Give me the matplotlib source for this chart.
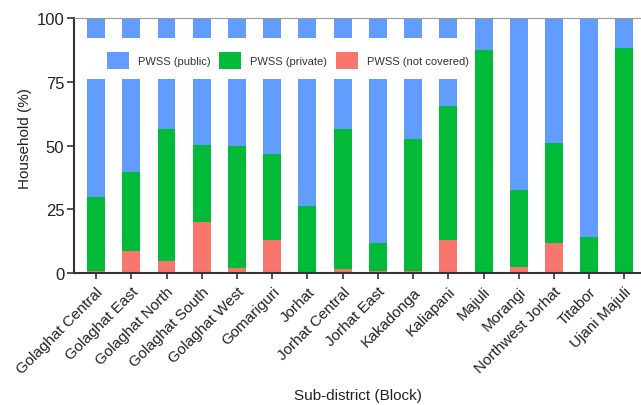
import numpy as np
import matplotlib
matplotlib.use("Agg")
import matplotlib.pyplot as plt

plt.rcParams["font.family"] = ["Liberation Sans", "DejaVu Sans"]

blocks = ["Golaghat Central", "Golaghat East", "Golaghat North", "Golaghat South",
          "Golaghat West", "Gomariguri", "Jorhat", "Jorhat Central", "Jorhat East",
          "Kakadonga", "Kaliapani", "Majuli", "Morangi", "Northwest Jorhat",
          "Titabor", "Ujani Majuli"]

# share of households (%) by water supply status
not_covered = [0.7, 8.5, 4.6, 20.1, 1.8, 13.1, 0.0, 1.6, 0.9, 0.9, 13.1, 0.0, 2.5, 11.8, 0.0, 0.4]
private = [29.0, 31.0, 51.9, 30.2, 48.1, 33.6, 26.4, 54.9, 10.9, 51.6, 52.5, 87.6, 30.0, 39.4, 14.2, 87.8]
public = [70.3, 60.5, 43.5, 49.7, 50.1, 53.3, 73.6, 43.5, 88.2, 47.5, 34.4, 12.4, 67.5, 48.8, 85.8, 11.8]

c_public = "#619CFF"
c_private = "#00BA38"
c_notcov = "#F8766D"

fig = plt.figure(figsize=(6.41, 4.06), dpi=100)
ax = fig.add_axes([0.1155, 0.325, 0.8845, 0.628])

x = np.arange(len(blocks))
w = 0.51
nc = np.array(not_covered)
pv = np.array(private)
pb = np.array(public)

ax.bar(x, nc, w, color=c_notcov, label="PWSS (not covered)", zorder=2)
ax.bar(x, pv, w, bottom=nc, color=c_private, label="PWSS (private)", zorder=2)
ax.bar(x, pb, w, bottom=nc + pv, color=c_public, label="PWSS (public)", zorder=2)

# white strip behind the legend
ax.axhspan(76, 92, xmin=0, xmax=0.691, facecolor="white", edgecolor="none", zorder=2.5)

handles, labels = ax.get_legend_handles_labels()
leg = ax.legend(handles[::-1], labels[::-1], ncol=3, fontsize=8, frameon=False,
                loc="center left", bbox_to_anchor=(0.0476, 0.835), borderpad=0,
                handlelength=2.0, handleheight=2.0, handletextpad=0.8,
                columnspacing=0.8)
leg.set_zorder(3)
for t in leg.get_texts():
    t.set_color("#333333")

ax.set_xlim(-0.625, 15.47)
ax.set_ylim(0, 100)
ax.set_yticks([0, 25, 50, 75, 100])
ax.set_xticks(x)
ax.set_xticklabels(blocks, rotation=45, ha="right", rotation_mode="anchor")

ax.tick_params(axis="y", labelsize=12, length=5, width=1.2, color="#333333",
               labelcolor="#222222", pad=2)
ax.tick_params(axis="x", labelsize=11, length=4, width=1.2, color="#333333",
               labelcolor="#222222", pad=4)

ax.set_ylabel("Household (%)", fontsize=11, color="#222222")
ax.set_xlabel("Sub-district (Block)", fontsize=11, color="#222222")
ax.yaxis.set_label_coords(-0.074, 0.53)
ax.xaxis.set_label_coords(0.5, -0.45)

for side in ["left", "bottom"]:
    ax.spines[side].set_linewidth(1.5)
    ax.spines[side].set_color("#333333")
ax.spines["top"].set_linewidth(0.8)
ax.spines["top"].set_color("#9a9a9a")
ax.spines["right"].set_visible(False)

fig.savefig("out.png", dpi=100)
